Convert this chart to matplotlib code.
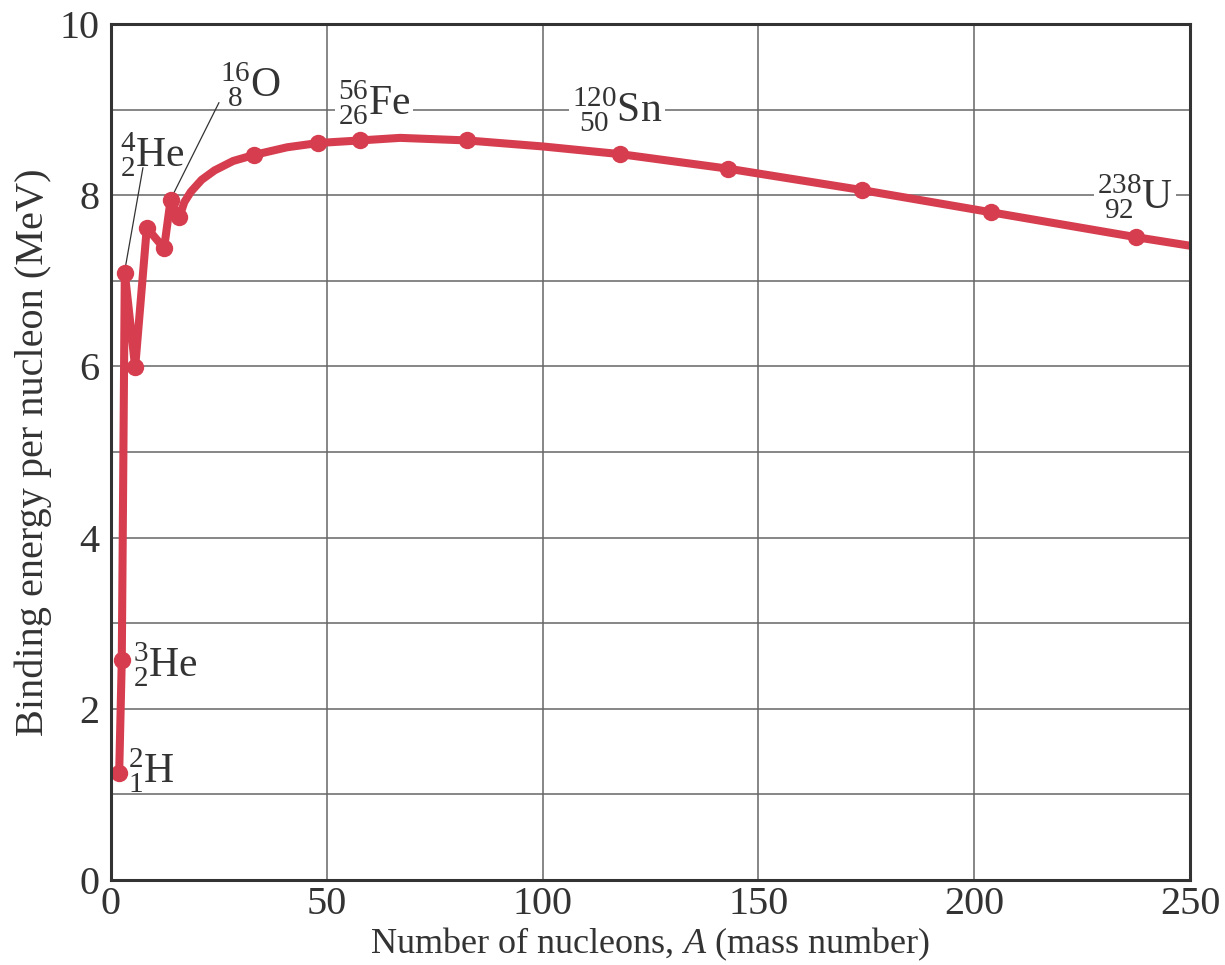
import matplotlib.pyplot as plt

plt.rcParams['font.family'] = ['Liberation Serif', 'DejaVu Serif']
plt.rcParams['mathtext.fontset'] = 'custom'
plt.rcParams['mathtext.rm'] = 'Liberation Serif'
plt.rcParams['mathtext.it'] = 'Liberation Serif:italic'

# valores (A, energia de enlace por nucleon en MeV)
puntos_A = [1.9, 2.5, 3.2, 5.6, 8.3, 12.3, 13.8, 15.8, 33.1, 48.0, 57.7,
            82.5, 118.0, 143.0, 174.0, 204.0, 237.5]
puntos_E = [1.25, 2.57, 7.09, 5.99, 7.62, 7.38, 7.94, 7.74, 8.47, 8.61, 8.64,
            8.64, 8.48, 8.31, 8.06, 7.80, 7.51]

# puntos extra de la curva (leidos) entre los marcadores
curva_A = [17.0, 18.5, 21.0, 24.0, 28.3, 40.8, 67.0, 100.0, 250.0]
curva_E = [7.92, 8.04, 8.18, 8.29, 8.40, 8.56, 8.67, 8.57, 7.41]

etiquetas = [r'$^{2}_{1}\mathrm{H}$', r'$^{3}_{2}\mathrm{He}$', r'$^{4}_{2}\mathrm{He}$',
             r'$^{16}_{\ 8}\mathrm{O}$', r'$^{56}_{26}\mathrm{Fe}$',
             r'$^{120}_{\ 50}\mathrm{Sn}$', r'$^{238}_{\ 92}\mathrm{U}$']
etiqueta_xy = [(3.9, 1.28), (5.1, 2.51), (2.1, 8.47), (25.3, 9.29),
               (52.6, 9.08), (106.8, 9.0), (228.5, 7.98)]

rojo = '#d63d4f'
gris = '#333333'

# la zona de zigzag se respeta en el orden original
zig = list(zip(puntos_A[:8], puntos_E[:8]))
resto = sorted(list(zip(puntos_A[8:], puntos_E[8:])) + list(zip(curva_A, curva_E)))
linea = zig + resto

fig = plt.figure(figsize=(12.25, 9.65), dpi=100)
ax = fig.add_axes([0.0906, 0.0881, 0.8808, 0.8870])

ax.plot([p[0] for p in linea], [p[1] for p in linea], color=rojo, lw=5.8,
        solid_joinstyle='round', solid_capstyle='butt', zorder=3)
ax.plot(puntos_A, puntos_E, 'o', color=rojo, ms=11.5, zorder=4)

ax.set_xlim(0, 250)
ax.set_ylim(0, 10)
ax.set_xticks([0, 50, 100, 150, 200, 250])
ax.set_yticks([0, 2, 4, 6, 8, 10])
ax.set_yticks(range(0, 11), minor=True)
ax.grid(True, which='both', color='#666666', lw=1.1, zorder=1)
ax.tick_params(which='both', length=0, labelsize=29, colors=gris)
ax.tick_params(axis='y', pad=8)
ax.tick_params(axis='x', pad=4)
for s in ax.spines.values():
    s.set_linewidth(2.2)
    s.set_color(gris)
    s.set_zorder(5)

ax.set_xlabel(r'Number of nucleons, $\it{A}$ (mass number)', fontsize=26, color=gris)
ax.xaxis.set_label_coords(0.5, -0.053)
ax.set_ylabel('Binding energy per nucleon (MeV)', fontsize=29, color=gris, labelpad=6)

for i, (txt, (x, y)) in enumerate(zip(etiquetas, etiqueta_xy)):
    caja = None
    if i >= 4:
        caja = dict(facecolor='white', edgecolor='none', pad=2)
    ax.text(x, y, txt, fontsize=30, color=gris, ha='left', va='center',
            bbox=caja, zorder=2)

# lineas guia
ax.plot([7.4, 3.3], [8.32, 7.15], color=gris, lw=0.9, zorder=2)
ax.plot([25.0, 14.3], [9.08, 8.0], color=gris, lw=0.9, zorder=2)

fig.savefig('out.png', dpi=100)
